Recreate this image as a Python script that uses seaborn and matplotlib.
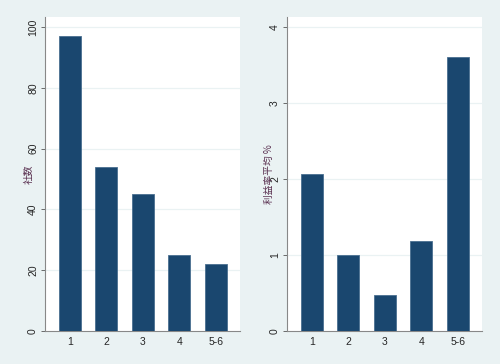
import pandas as pd
import matplotlib.pyplot as plt
import seaborn as sns

# data
groups = ['1', '2', '3', '4', '5-6']
counts = [97, 54, 45, 25, 22]
margin_avg = [2.06, 1.0, 0.47, 1.19, 3.61]

df = pd.DataFrame({'group': groups, 'count': counts, 'margin': margin_avg})

sns.set_theme(style='white')
plt.rcParams['font.family'] = ['Liberation Sans', 'Noto Sans CJK JP', 'DejaVu Sans']

bg = '#EAF2F3'
bar_color = '#1A476F'

fig = plt.figure(figsize=(5, 3.64), dpi=100, facecolor=bg)
ax1 = fig.add_axes([0.09, 0.0907, 0.39, 0.8626])
ax2 = fig.add_axes([0.574, 0.0907, 0.39, 0.8626])

panels = [
    (ax1, 'count', '社数', [0, 20, 40, 60, 80, 100], 103.3, -4),
    (ax2, 'margin', '利益率平均 %', [0, 1, 2, 3, 4], 4.13, -3),
]

for ax, col, label, yticks, ytop, lpad in panels:
    sns.barplot(data=df, x='group', y=col, ax=ax, color=bar_color,
                width=0.6, saturation=1, edgecolor='#4a6f90', linewidth=0.6,
                zorder=3)
    ax.set_facecolor('white')
    ax.set_xlim(-0.68, 4.66)
    ax.set_ylim(0, ytop)
    ax.set_yticks(yticks)
    ax.set_yticklabels([str(t) for t in yticks], rotation=90, va='center')
    for t in yticks[1:]:
        ax.axhline(t, color='#EAF2F3', linewidth=0.9, zorder=1)
    ax.set_xlabel('')
    ax.set_ylabel(label, fontsize=7, color='#5a3050', labelpad=lpad,
                  family=['Noto Sans CJK JP', 'DejaVu Sans'])
    ax.tick_params(axis='y', length=3, width=0.6, color='#555555',
                   labelsize=7.5, pad=2, left=True)
    ax.tick_params(axis='x', length=0, labelsize=7.5, pad=4)
    for s in ['top', 'right']:
        ax.spines[s].set_visible(False)
    for s in ['left', 'bottom']:
        ax.spines[s].set_color('#888888')
        ax.spines[s].set_linewidth(0.8)

fig.savefig('out.png', dpi=100, facecolor=bg)
